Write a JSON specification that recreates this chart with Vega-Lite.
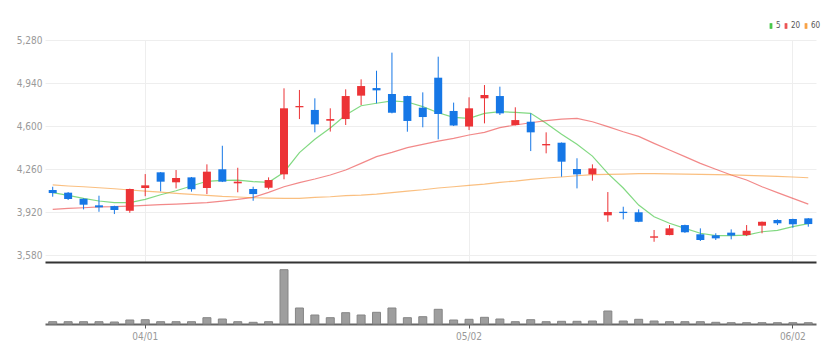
{
  "$schema": "https://vega.github.io/schema/vega-lite/v6.json",
  "padding": {"top": 22, "left": 5, "right": 5, "bottom": 5},
  "background": "white",
  "spacing": 0,
  "config": {
    "view": {"stroke": null},
    "axis": {"labelFont": "Liberation Sans Narrow, DejaVu Sans Condensed, sans-serif", "labelFontSize": 10, "labelColor": "#999"},
    "legend": {"labelFont": "Liberation Sans Narrow, DejaVu Sans Condensed, sans-serif"}
  },
  "data": {"values": [
    {"d": "03/24", "o": 4094, "h": 4120, "l": 4041, "c": 4070, "v": 230000, "m5": 4073, "m20": 3941, "m60": 4134},
    {"d": "03/25", "o": 4073, "h": 4078, "l": 4015, "c": 4023, "v": 230000, "m5": 4052, "m20": 3949, "m60": 4126},
    {"d": "03/26", "o": 4025, "h": 4028, "l": 3941, "c": 3978, "v": 230000, "m5": 4028, "m20": 3954, "m60": 4120},
    {"d": "03/27", "o": 3973, "h": 4049, "l": 3922, "c": 3957, "v": 230000, "m5": 4007, "m20": 3960, "m60": 4112},
    {"d": "03/28", "o": 3967, "h": 3970, "l": 3904, "c": 3936, "v": 200000, "m5": 3994, "m20": 3962, "m60": 4104},
    {"d": "03/31", "o": 3930, "h": 4105, "l": 3914, "c": 4102, "v": 400000, "m5": 3994, "m20": 3967, "m60": 4094},
    {"d": "04/01", "o": 4110, "h": 4220, "l": 4045, "c": 4131, "v": 430000, "m5": 4020, "m20": 3973, "m60": 4086},
    {"d": "04/02", "o": 4234, "h": 4236, "l": 4084, "c": 4160, "v": 230000, "m5": 4057, "m20": 3978, "m60": 4078},
    {"d": "04/03", "o": 4155, "h": 4252, "l": 4107, "c": 4189, "v": 230000, "m5": 4088, "m20": 3983, "m60": 4068},
    {"d": "04/04", "o": 4194, "h": 4197, "l": 4081, "c": 4100, "v": 230000, "m5": 4126, "m20": 3989, "m60": 4060},
    {"d": "04/07", "o": 4110, "h": 4297, "l": 4062, "c": 4239, "v": 630000, "m5": 4163, "m20": 3994, "m60": 4052},
    {"d": "04/08", "o": 4258, "h": 4444, "l": 4157, "c": 4160, "v": 500000, "m5": 4171, "m20": 4007, "m60": 4044},
    {"d": "04/09", "o": 4147, "h": 4270, "l": 4076, "c": 4160, "v": 230000, "m5": 4173, "m20": 4020, "m60": 4039},
    {"d": "04/10", "o": 4102, "h": 4120, "l": 4009, "c": 4062, "v": 170000, "m5": 4160, "m20": 4036, "m60": 4033},
    {"d": "04/11", "o": 4112, "h": 4194, "l": 4100, "c": 4173, "v": 230000, "m5": 4155, "m20": 4075, "m60": 4030},
    {"d": "04/14", "o": 4218, "h": 4898, "l": 4179, "c": 4740, "v": 5430000, "m5": 4235, "m20": 4120, "m60": 4028},
    {"d": "04/15", "o": 4748, "h": 4885, "l": 4655, "c": 4758, "v": 1600000, "m5": 4390, "m20": 4152, "m60": 4028},
    {"d": "04/16", "o": 4727, "h": 4819, "l": 4550, "c": 4613, "v": 900000, "m5": 4495, "m20": 4181, "m60": 4036},
    {"d": "04/17", "o": 4642, "h": 4740, "l": 4556, "c": 4655, "v": 630000, "m5": 4585, "m20": 4213, "m60": 4041},
    {"d": "04/18", "o": 4655, "h": 4890, "l": 4608, "c": 4837, "v": 1130000, "m5": 4687, "m20": 4252, "m60": 4049},
    {"d": "04/21", "o": 4840, "h": 4969, "l": 4766, "c": 4916, "v": 900000, "m5": 4760, "m20": 4305, "m60": 4054},
    {"d": "04/22", "o": 4900, "h": 5037, "l": 4779, "c": 4882, "v": 1170000, "m5": 4780, "m20": 4358, "m60": 4062},
    {"d": "04/23", "o": 4853, "h": 5180, "l": 4700, "c": 4705, "v": 1600000, "m5": 4798, "m20": 4392, "m60": 4073},
    {"d": "04/24", "o": 4837, "h": 4840, "l": 4555, "c": 4640, "v": 630000, "m5": 4790, "m20": 4429, "m60": 4086},
    {"d": "04/25", "o": 4745, "h": 4866, "l": 4590, "c": 4671, "v": 730000, "m5": 4753, "m20": 4455, "m60": 4096},
    {"d": "04/28", "o": 4982, "h": 5148, "l": 4495, "c": 4695, "v": 1470000, "m5": 4705, "m20": 4481, "m60": 4110},
    {"d": "04/29", "o": 4719, "h": 4785, "l": 4600, "c": 4604, "v": 400000, "m5": 4669, "m20": 4503, "m60": 4120},
    {"d": "05/02", "o": 4596, "h": 4827, "l": 4568, "c": 4740, "v": 470000, "m5": 4661, "m20": 4529, "m60": 4131},
    {"d": "05/05", "o": 4819, "h": 4924, "l": 4621, "c": 4845, "v": 670000, "m5": 4700, "m20": 4550, "m60": 4141},
    {"d": "05/06", "o": 4837, "h": 4911, "l": 4687, "c": 4700, "v": 500000, "m5": 4713, "m20": 4587, "m60": 4155},
    {"d": "05/07", "o": 4608, "h": 4748, "l": 4605, "c": 4647, "v": 230000, "m5": 4708, "m20": 4608, "m60": 4165},
    {"d": "05/08", "o": 4634, "h": 4700, "l": 4402, "c": 4550, "v": 430000, "m5": 4700, "m20": 4626, "m60": 4178},
    {"d": "05/09", "o": 4447, "h": 4550, "l": 4384, "c": 4458, "v": 230000, "m5": 4621, "m20": 4642, "m60": 4189},
    {"d": "05/12", "o": 4468, "h": 4470, "l": 4199, "c": 4318, "v": 270000, "m5": 4535, "m20": 4655, "m60": 4197},
    {"d": "05/13", "o": 4260, "h": 4345, "l": 4107, "c": 4218, "v": 270000, "m5": 4455, "m20": 4661, "m60": 4207},
    {"d": "05/14", "o": 4218, "h": 4297, "l": 4168, "c": 4265, "v": 300000, "m5": 4362, "m20": 4634, "m60": 4215},
    {"d": "05/15", "o": 3894, "h": 4078, "l": 3843, "c": 3920, "v": 1300000, "m5": 4225, "m20": 4595, "m60": 4218},
    {"d": "05/16", "o": 3922, "h": 3962, "l": 3862, "c": 3912, "v": 300000, "m5": 4110, "m20": 4555, "m60": 4220},
    {"d": "05/19", "o": 3918, "h": 3941, "l": 3840, "c": 3843, "v": 470000, "m5": 3975, "m20": 4518, "m60": 4223},
    {"d": "05/20", "o": 3717, "h": 3778, "l": 3685, "c": 3728, "v": 300000, "m5": 3883, "m20": 4463, "m60": 4223},
    {"d": "05/21", "o": 3738, "h": 3817, "l": 3736, "c": 3791, "v": 230000, "m5": 3831, "m20": 4410, "m60": 4222},
    {"d": "05/22", "o": 3817, "h": 3820, "l": 3755, "c": 3760, "v": 230000, "m5": 3791, "m20": 4358, "m60": 4220},
    {"d": "05/23", "o": 3744, "h": 3791, "l": 3691, "c": 3699, "v": 230000, "m5": 3752, "m20": 4305, "m60": 4218},
    {"d": "05/26", "o": 3736, "h": 3752, "l": 3699, "c": 3712, "v": 170000, "m5": 3733, "m20": 4258, "m60": 4215},
    {"d": "05/27", "o": 3757, "h": 3783, "l": 3704, "c": 3734, "v": 130000, "m5": 3733, "m20": 4213, "m60": 4213},
    {"d": "05/28", "o": 3738, "h": 3817, "l": 3730, "c": 3772, "v": 130000, "m5": 3738, "m20": 4173, "m60": 4210},
    {"d": "05/29", "o": 3812, "h": 3845, "l": 3752, "c": 3843, "v": 130000, "m5": 3764, "m20": 4120, "m60": 4206},
    {"d": "05/30", "o": 3857, "h": 3862, "l": 3817, "c": 3831, "v": 130000, "m5": 3775, "m20": 4073, "m60": 4202},
    {"d": "06/02", "o": 3865, "h": 3867, "l": 3796, "c": 3823, "v": 130000, "m5": 3804, "m20": 4028, "m60": 4197},
    {"d": "06/04", "o": 3870, "h": 3872, "l": 3804, "c": 3825, "v": 130000, "m5": 3828, "m20": 3983, "m60": 4191}
  ]},
  "vconcat": [
    {
      "width": 771,
      "height": 222,
      "encoding": {
        "x": {
          "field": "d", "type": "ordinal",
          "scale": {"type": "band", "paddingInner": 0, "paddingOuter": 0},
          "axis": {"values": ["04/01", "05/02", "06/02"], "bandPosition": 0.5, "grid": true, "gridColor": "#eeeeee", "labels": false, "ticks": false, "domain": true, "domainColor": "#333333", "domainWidth": 2, "title": null, "minExtent": 0, "maxExtent": 0}
        }
      },
      "layer": [
        {
          "transform": [{"fold": ["m5", "m20", "m60"], "as": ["ma", "val"]}],
          "mark": {"type": "line", "strokeWidth": 1.2, "strokeOpacity": 0.6},
          "encoding": {
            "y": {
              "field": "val", "type": "quantitative",
              "scale": {"domain": [3525, 5280], "nice": false, "zero": false},
              "axis": {"values": [3580, 3920, 4260, 4600, 4940, 5280], "format": ",d", "grid": true, "gridColor": "#eeeeee", "domain": false, "ticks": false, "labelPadding": 3, "minExtent": 40, "maxExtent": 40, "title": null}
            },
            "color": {
              "field": "ma", "type": "nominal",
              "scale": {"domain": ["m5", "m20", "m60"], "range": ["#2fbf2f", "#e93b3b", "#f7952b"]},
              "legend": {
                "orient": "none", "legendX": 722, "legendY": -18, "direction": "horizontal", "title": null,
                "labelExpr": "datum.label == 'm5' ? '5' : datum.label == 'm20' ? '20' : '60'",
                "labelFontSize": 8, "labelColor": "#555555", "labelOffset": 1,
                "symbolType": "M-0.5,-1.5H0.5V1.5H-0.5Z", "symbolSize": 9, "symbolStrokeWidth": 1.2, "symbolOpacity": 1,
                "columnPadding": 1, "gridAlign": "none", "padding": 0
              }
            },
            "detail": {"field": "ma"}
          }
        },
        {
          "mark": {"type": "rule", "strokeWidth": 1},
          "encoding": {
            "y": {"field": "l", "type": "quantitative", "scale": {"domain": [3525, 5280], "nice": false, "zero": false}},
            "y2": {"field": "h"},
            "stroke": {"condition": {"test": "datum.c >= datum.o", "value": "#ec3336"}, "value": "#1677e6"}
          }
        },
        {
          "mark": {"type": "bar", "width": 8},
          "encoding": {
            "y": {"field": "o", "type": "quantitative", "scale": {"domain": [3525, 5280], "nice": false, "zero": false}},
            "y2": {"field": "c"},
            "fill": {"condition": {"test": "datum.c >= datum.o", "value": "#ec3336"}, "value": "#1677e6"}
          }
        }
      ]
    },
    {
      "width": 771,
      "height": 62,
      "mark": {"type": "bar", "width": 8, "fill": "#9e9e9e", "stroke": "#858585", "strokeWidth": 1},
      "encoding": {
        "x": {
          "field": "d", "type": "ordinal",
          "scale": {"type": "band", "paddingInner": 0, "paddingOuter": 0},
          "axis": {"values": ["04/01", "05/02", "06/02"], "bandPosition": 0.5, "grid": false, "labelAngle": 0, "labelPadding": 3, "ticks": true, "tickSize": 4, "tickColor": "#555555", "domainColor": "#666666", "domainWidth": 2, "title": null}
        },
        "y": {
          "field": "v", "type": "quantitative",
          "scale": {"domain": [0, 6200000], "nice": false},
          "axis": {"labels": false, "ticks": false, "domain": false, "grid": false, "title": null, "minExtent": 40, "maxExtent": 40}
        }
      }
    }
  ]
}
